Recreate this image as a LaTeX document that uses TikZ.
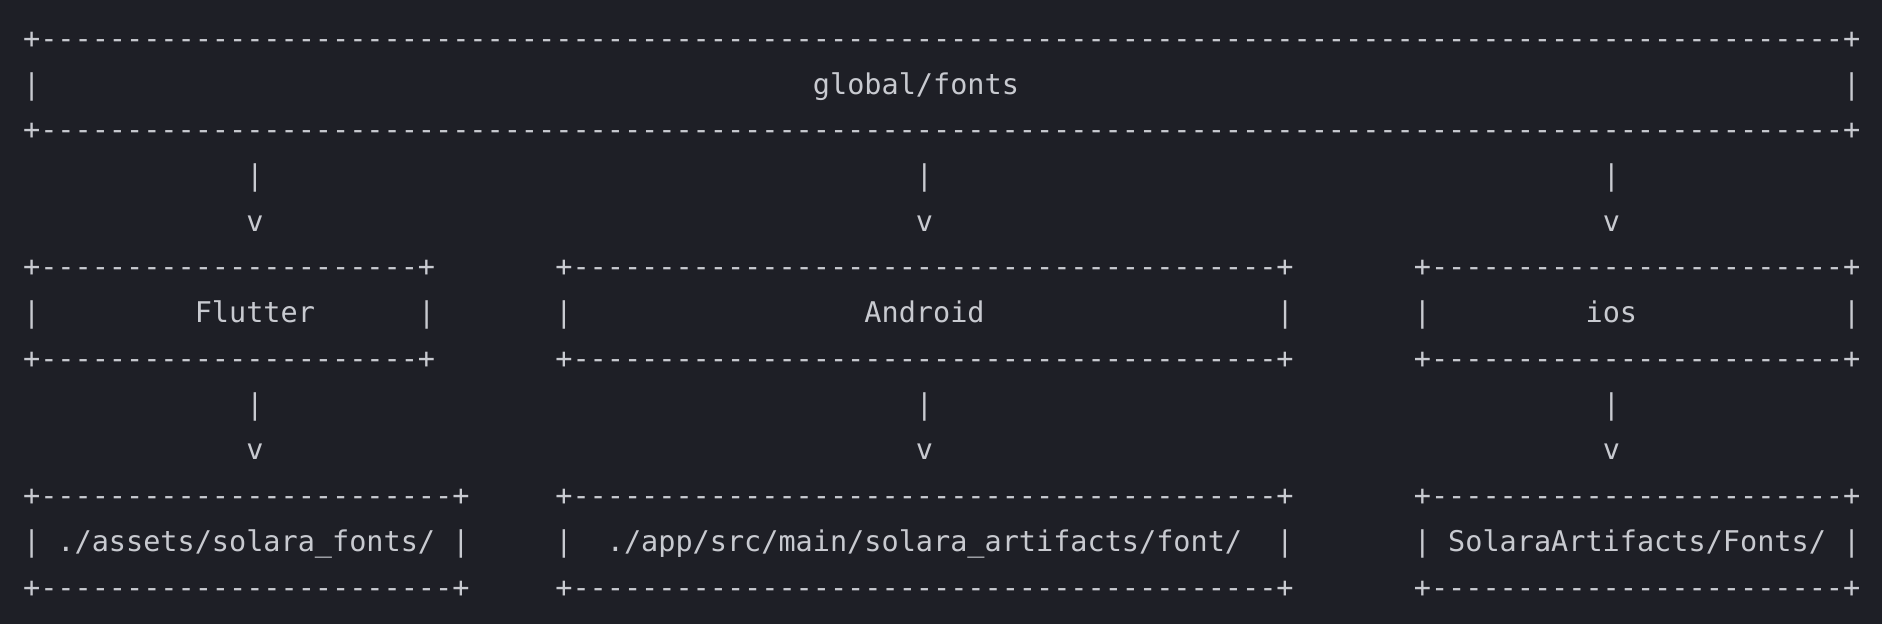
\documentclass[tikz,border=0pt]{standalone}
\usepackage{fontspec}
\setmonofont{DejaVu Sans Mono}
\definecolor{termbg}{RGB}{30,31,38}
\definecolor{termfg}{RGB}{200,202,208}

\newcommand\dashes[1]{\foreach\idx in {1,...,#1}{-}}
\newcommand\blanks[1]{\foreach\idx in {1,...,#1}{~}}
% name, column, row, number of dashes, middle line
\newcommand\asciibox[5]{%
  \node (#1-top) at (#2,#3) {+\dashes{#4}+};
  \node (#1) at (#2,#3+1) {#5};
  \node (#1-bot) at (#2,#3+2) {+\dashes{#4}+};}
% name, column, row
\newcommand\asciiarrow[3]{%
  \node (#1-shaft) at (#2,#3) {|};
  \node (#1-head) at (#2,#3+1) {v};}

\begin{document}
\begin{tikzpicture}[x=17.17pt, y=-45.73pt,
  every node/.style={inner sep=0pt, outer sep=0pt, anchor=base west, text=termfg,
    font=\ttfamily\fontsize{28.52pt}{45.73pt}\selectfont}]
\useasboundingbox[fill=termbg] (0,0) rectangle (109.61,13.645);
\begin{scope}[shift={(1.345,1.056)}]
\asciibox{global}{0}{0}{105}{|\blanks{45}global/fonts\blanks{48}|} %top

\asciiarrow{toflutter}{13}{3}
\asciiarrow{toandroid}{52}{3}
\asciiarrow{toios}{92}{3}

\asciibox{flutter}{0}{5}{22}{|\blanks{9}Flutter\blanks{6}|}
\asciibox{android}{31}{5}{41}{|\blanks{17}Android\blanks{17}|}
\asciibox{ios}{81}{5}{24}{|\blanks{9}ios\blanks{12}|}

\asciiarrow{toassets}{13}{8}
\asciiarrow{toartifacts}{52}{8}
\asciiarrow{tofonts}{92}{8}

%%%%%%%%%%%%%%%%%%%%%%%%%%%%%%%%%%%%%%%% target folders
\asciibox{assets}{0}{10}{24}{| ./assets/solara\_fonts/ |}
\asciibox{artifacts}{31}{10}{41}{|\blanks{2}./app/src/main/solara\_artifacts/font/\blanks{2}|}
\asciibox{fonts}{81}{10}{24}{| SolaraArtifacts/Fonts/ |}
\end{scope}
\end{tikzpicture}
\end{document}
